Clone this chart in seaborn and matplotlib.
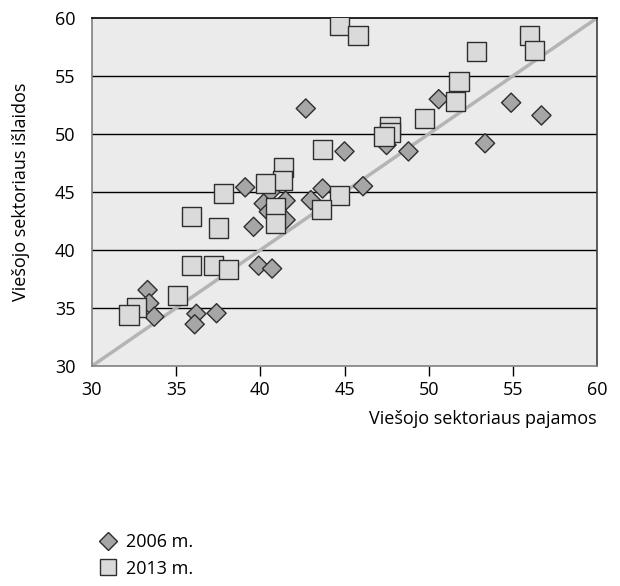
import matplotlib
matplotlib.use("Agg")
import matplotlib.pyplot as plt
import seaborn as sns
import pandas as pd
from matplotlib.lines import Line2D

x2006 = [42.7, 45.0, 50.6, 54.9, 56.7, 53.35, 48.8, 47.5, 46.1, 39.1, 43.7, 40.6, 43.0,
         41.5, 40.2, 40.5, 41.5, 39.6, 39.9, 40.7, 33.3, 33.4, 33.7, 36.2, 36.1, 37.4]
y2006 = [52.2, 48.5, 53.0, 52.7, 51.6, 49.2, 48.5, 49.05, 45.5, 45.4, 45.3, 45.0, 44.3,
         44.25, 44.0, 43.3, 42.6, 42.0, 38.65, 38.4, 36.55, 35.4, 34.25, 34.5, 33.6, 34.55]

x2013 = [44.7, 45.8, 56.0, 56.3, 52.85, 51.8, 51.6, 49.75, 47.7, 47.7, 47.35, 43.7, 41.4,
         41.3, 40.3, 37.8, 44.7, 43.65, 40.9, 40.9, 35.9, 37.5, 35.9, 37.2, 38.1, 35.1,
         32.65, 32.2]
y2013 = [59.4, 58.5, 58.5, 57.2, 57.1, 54.5, 52.8, 51.3, 50.6, 50.1, 49.8, 48.7, 47.1,
         46.0, 45.75, 44.9, 44.7, 43.5, 43.7, 42.3, 42.9, 41.9, 38.7, 38.7, 38.3, 36.1,
         35.05, 34.4]

series = ["2006 m.", "2013 m."]
ticks = [30, 35, 40, 45, 50, 55, 60]
xlabel = "Viešojo sektoriaus pajamos"
ylabel = "Viešojo sektoriaus išlaidos"

sns.set_theme(style="white")
plt.rcParams['font.family'] = ['Open Sans', 'DejaVu Sans']
plt.rcParams['text.color'] = 'black'
plt.rcParams['axes.labelcolor'] = 'black'
plt.rcParams['xtick.color'] = 'black'
plt.rcParams['ytick.color'] = 'black'
FS = 13

df = pd.concat([
    pd.DataFrame({"x": x2006, "y": y2006, "s": series[0]}),
    pd.DataFrame({"x": x2013, "y": y2013, "s": series[1]}),
])

fig = plt.figure(figsize=(6.2, 5.86), dpi=100)
ax = fig.add_axes([92 / 620, 1 - 366 / 586, (597 - 92) / 620, (366 - 18) / 586])
ax.set_facecolor("#ebebeb")

for t in [35, 40, 45, 50, 55]:
    ax.axhline(t, color="black", lw=1.0, zorder=1)
ax.plot([30, 60], [30, 60], color="#b4b4b4", lw=2.5, zorder=2)

sns.scatterplot(data=df, x="x", y="y", hue="s", style="s",
                markers={series[0]: "D", series[1]: "s"},
                palette={series[0]: "#a6a6a6", series[1]: "#dadada"},
                size="s", sizes={series[0]: 95, series[1]: 190},
                edgecolor="#2e2e2e", linewidth=1.0, ax=ax, zorder=3, legend=False)

ax.set_xlim(30, 60)
ax.set_ylim(30, 60)
ax.set_xticks(ticks)
ax.set_yticks(ticks)
ax.tick_params(axis="x", direction="out", length=7, width=1, color="black",
               labelcolor="black", labelsize=FS, pad=4, bottom=True)
ax.tick_params(axis="y", length=0, labelsize=FS, labelcolor="black", pad=12)
for tk in [ax.xaxis.get_major_ticks()[0], ax.xaxis.get_major_ticks()[-1]]:
    tk.tick1line.set_visible(False)

for side, c in [("left", "#808080"), ("bottom", "#808080"), ("top", "black"), ("right", "#404040")]:
    ax.spines[side].set_visible(True)
    ax.spines[side].set_color(c)
    ax.spines[side].set_linewidth(1.2)

ax.set_xlabel(xlabel, fontsize=FS, loc="right", labelpad=8, color="black")
ax.set_ylabel(ylabel, fontsize=FS, loc="center", labelpad=18, color="black")

handles = [
    Line2D([], [], marker="D", linestyle="none", markersize=9.5,
           markerfacecolor="#a6a6a6", markeredgecolor="#2e2e2e"),
    Line2D([], [], marker="s", linestyle="none", markersize=12,
           markerfacecolor="#dadada", markeredgecolor="#2e2e2e"),
]
leg = fig.legend(handles, series, loc="upper left", bbox_to_anchor=(0.1445, 0.102),
                 bbox_transform=fig.transFigure, frameon=False, fontsize=FS,
                 handletextpad=0.4, labelspacing=0.45, borderaxespad=0, handlelength=1.2)
for t in leg.get_texts():
    t.set_color("black")

fig.savefig("out.png", dpi=100)
